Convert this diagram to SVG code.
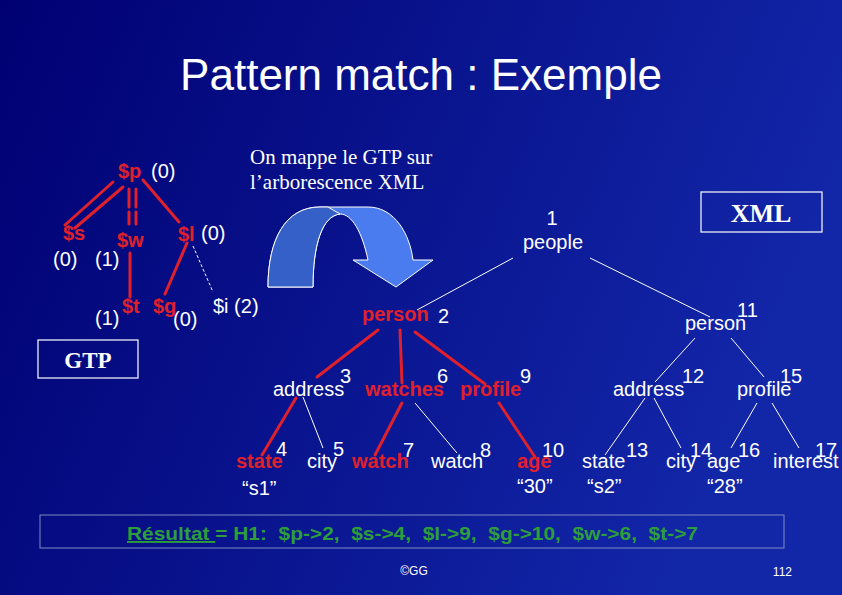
<svg xmlns="http://www.w3.org/2000/svg" width="842" height="595" viewBox="0 0 842 595">
<defs>
<linearGradient id="bg" x1="0" y1="0" x2="1" y2="0.3">
<stop offset="0" stop-color="#000072"/>
<stop offset="1" stop-color="#1226a8"/>
</linearGradient>
<style>
.s{font-family:"Liberation Sans",Arial,sans-serif;font-size:20px;fill:#fff}
.r{font-family:"Liberation Sans",Arial,sans-serif;font-size:20px;font-weight:bold;fill:#e0202a}
.t{font-family:"Liberation Serif","Times New Roman",serif;fill:#fff}
.re{stroke:#e0202a;stroke-width:3;fill:none;stroke-linecap:round}
.we{stroke:#fff;stroke-width:1;fill:none}
.box{fill:none;stroke:#fff;stroke-width:1.2}
</style>
</defs>
<rect x="0" y="0" width="842" height="595" fill="url(#bg)"/>
<text x="421" y="90" text-anchor="middle" font-family="Liberation Sans, Arial, sans-serif" font-size="44" fill="#fff">Pattern match : Exemple</text>

<g id="connectors">
<line class="re" x1="113" y1="182" x2="65" y2="225"/>
<line class="re" x1="123" y1="187" x2="75" y2="228"/>
<line class="re" x1="129" y1="189" x2="129" y2="207"/>
<line class="re" x1="136" y1="189" x2="136" y2="207"/>
<line class="re" x1="129" y1="212" x2="129" y2="224"/>
<line class="re" x1="136" y1="212" x2="136" y2="224"/>
<line class="re" x1="143" y1="180" x2="179" y2="222"/>
<line class="re" x1="130" y1="253" x2="130" y2="297"/>
<line class="re" x1="187" y1="243" x2="165" y2="294"/>
<line class="we" x1="193" y1="246" x2="213" y2="292" stroke-dasharray="3,2"/>
<line class="we" x1="513" y1="258" x2="417" y2="310"/>
<line class="we" x1="590" y1="258" x2="710" y2="317"/>
<line class="re" x1="378" y1="330" x2="317" y2="377"/>
<line class="re" x1="400" y1="330" x2="402" y2="383"/>
<line class="re" x1="415" y1="332" x2="485" y2="384"/>
<line class="re" x1="296" y1="398" x2="262" y2="455"/>
<line class="we" x1="303" y1="397" x2="323" y2="448"/>
<line class="re" x1="402" y1="403" x2="375" y2="455"/>
<line class="we" x1="415" y1="403" x2="457" y2="453"/>
<line class="re" x1="499" y1="403" x2="535" y2="457"/>
<line class="we" x1="695" y1="338" x2="655" y2="382"/>
<line class="we" x1="731" y1="338" x2="764" y2="377"/>
<line class="we" x1="645" y1="398" x2="605" y2="455"/>
<line class="we" x1="654" y1="398" x2="681" y2="448"/>
<line class="we" x1="757" y1="403" x2="731" y2="448"/>
<line class="we" x1="772" y1="403" x2="799" y2="448"/>
</g>

<g id="gtp-p"><text class="r" x="118" y="178">$p</text><text class="s" x="151" y="178">(0)</text></g>
<g id="gtp-s"><text class="r" x="63" y="240">$s</text><text class="s" x="53" y="266">(0)</text></g>
<g id="gtp-w"><text class="r" x="117" y="247">$w</text><text class="s" x="95" y="266">(1)</text></g>
<g id="gtp-l"><text class="r" x="178" y="241">$l</text><text class="s" x="201" y="240">(0)</text></g>
<g id="gtp-t"><text class="r" x="122" y="313">$t</text><text class="s" x="95" y="325">(1)</text></g>
<g id="gtp-g"><text class="r" x="153" y="313">$g</text><text class="s" x="173" y="326">(0)</text></g>
<g id="gtp-i"><text class="s" x="213" y="313">$i (2)</text></g>
<g id="gtp-label"><rect class="box" x="38" y="340" width="100" height="38"/><text class="t" x="88" y="368" text-anchor="middle" font-size="23" font-weight="bold">GTP</text></g>

<g id="caption"><text class="t" x="250" y="164" font-size="21">On mappe le GTP sur</text><text class="t" x="250" y="189" font-size="21">l’arborescence XML</text></g>

<g id="arrow">
<path d="M268,287 C268,240 285,207 320,207 L368,207 C395,207 410,235 413,260 L433,260 L396,287 L353,260 L368,260 C362,232 352,214 340,214 C322,216 313,245 313,287 Z" fill="#4a7cf0" stroke="#fff" stroke-width="1"/>
<path d="M268,287 C268,240 285,207 320,207 L328,207 L340,214 C322,216 313,245 313,287 Z" fill="#3560c8" stroke="#fff" stroke-width="1"/>
</g>

<g id="xml-label"><rect class="box" x="701" y="192" width="121" height="40"/><text class="t" x="761" y="222" text-anchor="middle" font-size="26" font-weight="bold">XML</text></g>

<g id="n1"><text class="s" x="552" y="225" text-anchor="middle">1</text><text class="s" x="523" y="249">people</text></g>
<g id="n2"><text class="r" x="362" y="321">person</text><text class="s" x="438" y="323">2</text></g>
<g id="n3"><text class="s" x="273" y="396">address</text><text class="s" x="340" y="383">3</text></g>
<g id="n6"><text class="r" x="365" y="396">watches</text><text class="s" x="437" y="383">6</text></g>
<g id="n9"><text class="r" x="460" y="396">profile</text><text class="s" x="520" y="383">9</text></g>
<g id="n4"><text class="r" x="236" y="468">state</text><text class="s" x="276" y="456">4</text><text class="s" x="242" y="495">“s1”</text></g>
<g id="n5"><text class="s" x="307" y="468">city</text><text class="s" x="333" y="456">5</text></g>
<g id="n7"><text class="r" x="352" y="468">watch</text><text class="s" x="403" y="457">7</text></g>
<g id="n8"><text class="s" x="431" y="468">watch</text><text class="s" x="480" y="457">8</text></g>
<g id="n10"><text class="r" x="517" y="468">age</text><text class="s" x="542" y="457">10</text><text class="s" x="517" y="493">“30”</text></g>
<g id="n11"><text class="s" x="685" y="330">person</text><text class="s" x="737" y="317">11</text></g>
<g id="n12"><text class="s" x="613" y="396">address</text><text class="s" x="682" y="383">12</text></g>
<g id="n15"><text class="s" x="737" y="396">profile</text><text class="s" x="780" y="383">15</text></g>
<g id="n13"><text class="s" x="582" y="468">state</text><text class="s" x="626" y="457">13</text><text class="s" x="587" y="493">“s2”</text></g>
<g id="n14"><text class="s" x="666" y="468">city</text><text class="s" x="690" y="457">14</text></g>
<g id="n16"><text class="s" x="707" y="468">age</text><text class="s" x="738" y="457">16</text><text class="s" x="707" y="493">“28”</text></g>
<g id="n17"><text class="s" x="773" y="468">interest</text><text class="s" x="815" y="457">17</text></g>

<g id="result">
<rect x="40" y="515" width="744" height="33" fill="none" stroke="#7d8cc0" stroke-width="1"/>
<text x="127" y="540" xml:space="preserve" style="white-space:pre" font-family="Liberation Sans, Arial, sans-serif" font-size="19" font-weight="bold" fill="#2e9e3a" textLength="571" lengthAdjust="spacingAndGlyphs"><tspan text-decoration="underline">Résultat </tspan>= H1:  $p-&gt;2,  $s-&gt;4,  $l-&gt;9,  $g-&gt;10,  $w-&gt;6,  $t-&gt;7</text>
</g>
<text x="414" y="575" text-anchor="middle" font-family="Liberation Sans, Arial, sans-serif" font-size="12" fill="#fff">©GG</text>
<text x="792" y="576" text-anchor="end" font-family="Liberation Sans, Arial, sans-serif" font-size="12" fill="#fff">112</text>
</svg>
